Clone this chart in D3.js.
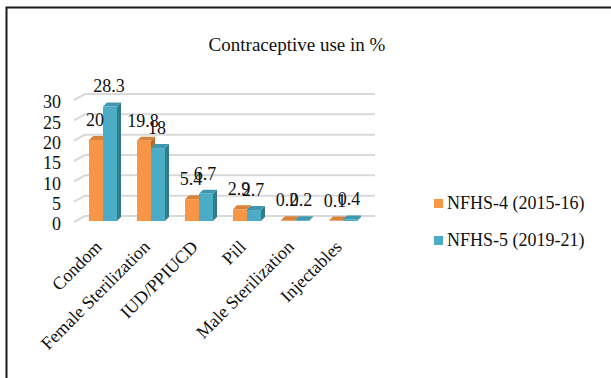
<!DOCTYPE html>
<html>
<head>
<meta charset="utf-8">
<script src="https://cdn.jsdelivr.net/npm/d3@7"></script>
<style>
  html, body { margin: 0; padding: 0; background: #fff; }
  svg text { font-family: "Liberation Serif", "Times New Roman", Times, serif; }
</style>
</head>
<body>
<svg id="chart" width="611" height="378"></svg>
<script>
// Contraceptive use (%) by method, NFHS-4 vs NFHS-5
const categories = ["Condom", "Female Sterilization", "IUD/PPIUCD", "Pill", "Male Sterilization", "Injectables"];
const nfhs4 = [20, 19.8, 5.4, 2.9, 0.2, 0.1];
const nfhs5 = [28.3, 18, 6.7, 2.7, 0.2, 0.4];
const seriesNames = ["NFHS-4 (2015-16)", "NFHS-5 (2019-21)"];
const yTicks = [0, 5, 10, 15, 20, 25, 30];

const FONT = "Liberation Serif, Times New Roman, serif";
const colors = [
  { front: "#f79646", top: "#d9823c", side: "#b86a2c" },
  { front: "#4bacc6", top: "#3f98b0", side: "#2f7a8e" }
];

const svg = d3.select("#chart");

// outer frame
svg.append("rect")
  .attr("x", 6.5).attr("y", 7.5)
  .attr("width", 640).attr("height", 400)
  .attr("fill", "none").attr("stroke", "#1a1a1a").attr("stroke-width", 2);

// title
svg.append("text")
  .attr("x", 297).attr("y", 51)
  .attr("text-anchor", "middle")
  .attr("font-family", FONT)
  .attr("font-size", 19)
  .attr("fill", "#111")
  .text("Contraceptive use in %");

// scales: front plane for bars, back wall for gridlines
const yFront = d3.scaleLinear().domain([0, 30]).range([221, 99.5]);
const yBack = d3.scaleLinear().domain([0, 30]).range([216, 94]);
const x = d3.scaleBand().domain(categories).range([79, 367]).paddingInner(0).paddingOuter(0);
const barW = 14;
const depth = { dx: 4, dy: -4 };

// gridlines: side wall diagonal + back wall horizontal
const grid = svg.append("g");
yTicks.forEach(v => {
  const yb = yBack(v);
  grid.append("path")
    .attr("d", `M74,${yb + 6}L85,${yb}L375,${yb}`)
    .attr("fill", "none").attr("stroke", "#d9d9d9").attr("stroke-width", 2);
});

// y axis labels
const yAxis = d3.axisLeft(yBack).tickValues(yTicks).tickSize(0).tickPadding(0);
const yg = svg.append("g").attr("transform", "translate(61,8)").call(yAxis);
yg.attr("font-family", FONT).attr("font-size", 18);
yg.select(".domain").remove();
yg.selectAll("text")
  .attr("font-family", FONT)
  .attr("font-size", 18).attr("fill", "#111");

// 3D bars
const series = [nfhs4, nfhs5];
const bars = svg.append("g");
categories.forEach((c, i) => {
  const cx = x(c) + x.bandwidth() / 2;
  series.forEach((vals, s) => {
    const v = vals[i];
    const x0 = cx - barW + s * barW;
    const x1 = x0 + barW;
    const y0 = yFront(0);
    const yt = yFront(v);
    const col = colors[s];
    // side face
    bars.append("path")
      .attr("d", `M${x1},${y0}L${x1 + depth.dx},${y0 + depth.dy}L${x1 + depth.dx},${yt + depth.dy}L${x1},${yt}Z`)
      .attr("fill", col.side);
    // top face
    bars.append("path")
      .attr("d", `M${x0},${yt}L${x0 + depth.dx},${yt + depth.dy}L${x1 + depth.dx},${yt + depth.dy}L${x1},${yt}Z`)
      .attr("fill", col.top);
    // front face
    bars.append("rect")
      .attr("x", x0).attr("y", yt)
      .attr("width", barW).attr("height", Math.max(0, y0 - yt))
      .attr("fill", col.front);
  });
});

// value labels
const labels = svg.append("g")
  .attr("font-family", FONT)
  .attr("font-size", 18).attr("fill", "#111").attr("text-anchor", "middle");
categories.forEach((c, i) => {
  const cx = x(c) + x.bandwidth() / 2;
  series.forEach((vals, s) => {
    const v = vals[i];
    const bc = cx - barW / 2 + s * barW;
    labels.append("text")
      .attr("font-family", FONT)
      .attr("x", bc - 1)
      .attr("y", yFront(v) - 14)
      .text(String(v));
  });
});

// category labels, rotated
const xg = svg.append("g")
  .attr("font-family", FONT)
  .attr("font-size", 18).attr("fill", "#111");
categories.forEach(c => {
  const cx = x(c) + x.bandwidth() / 2;
  xg.append("text")
    .attr("font-family", FONT)
    .attr("transform", `translate(${cx},${248}) rotate(-45)`)
    .attr("text-anchor", "end")
    .text(c);
});

// legend
const legend = svg.append("g");
seriesNames.forEach((name, s) => {
  const ly = 203 + s * 37;
  legend.append("rect")
    .attr("x", 434).attr("y", ly - 4)
    .attr("width", 9).attr("height", 9)
    .attr("fill", colors[s].front);
  legend.append("text")
    .attr("font-family", FONT)
    .attr("x", 447).attr("y", ly + 6)
    .attr("font-size", 18).attr("fill", "#111")
    .text(name);
});
</script>
</body>
</html>
